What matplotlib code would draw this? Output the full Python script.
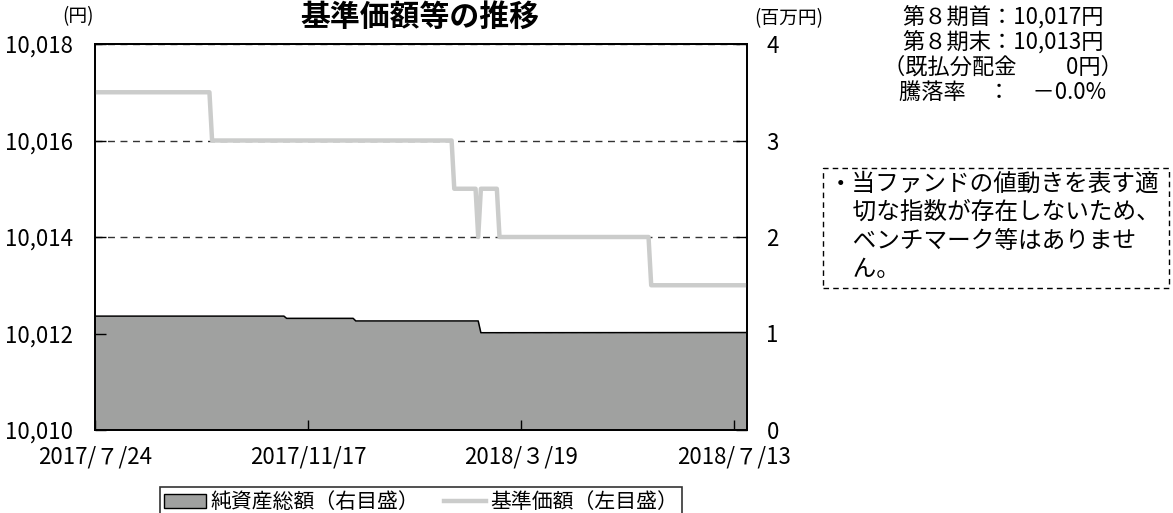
import matplotlib.pyplot as plt
from matplotlib.patches import Rectangle, Patch
from matplotlib.lines import Line2D

plt.rcParams['font.family'] = ['Noto Sans CJK JP', 'DejaVu Sans']

# 営業日インデックスと基準価額（左目盛, 円）
price_idx = [0, 43, 44, 134, 135, 143, 144, 145, 151, 152, 208, 209, 245]
price_val = [10017, 10017, 10016, 10016, 10015, 10015, 10014, 10015, 10015,
             10014, 10014, 10013, 10013]

# 純資産総額（右目盛, 百万円）
asset_idx = [0, 71, 72, 97, 98, 144, 145, 245]
asset_val = [1.18, 1.18, 1.157, 1.157, 1.13, 1.13, 1.008, 1.01]

# 目盛
x_ticks = [0, 80, 160, 240]
x_labels = ['2017/７/24', '2017/11/17', '2018/３/19', '2018/７/13']
left_ticks = [10010, 10012, 10014, 10016, 10018]
right_ticks = [0, 1, 2, 3, 4]

W, H = 1173, 513
fig = plt.figure(figsize=(W / 100, H / 100), dpi=100)
ax = fig.add_axes([95 / W, 1 - 430 / H, (747 - 95) / W, (430 - 44) / H])
ax2 = ax.twinx()

# 純資産総額（面）
ax2.fill_between(asset_idx, asset_val, 0, color='#a0a1a0', lw=0)
ax2.plot(asset_idx, asset_val, color='black', lw=1.1)
ax2.set_ylim(0, 4)
ax2.set_yticks(right_ticks)
ax2.set_yticklabels([str(v) for v in right_ticks])
ax2.yaxis.grid(True, linestyle=(0, (5, 4)), color='#333333', lw=1)
ax2.set_axisbelow(True)
ax2.tick_params(axis='y', direction='in', length=8, width=1, pad=14, labelsize=16)

# 基準価額（線）
ax.set_zorder(ax2.get_zorder() + 1)
ax.patch.set_visible(False)
ax.plot(price_idx, price_val, color='#cbcccb', lw=3.2)
ax.set_ylim(10010, 10018)
ax.set_yticks(left_ticks)
ax.set_yticklabels([f'{v:,}' for v in left_ticks])
ax.set_xlim(0, 245)
ax.set_xticks(x_ticks)
ax.set_xticklabels(x_labels)
ax.tick_params(axis='y', direction='in', length=8, width=1, pad=16, labelsize=16)
ax.tick_params(axis='x', direction='in', length=7, width=1, pad=11, labelsize=16)
for a in (ax, ax2):
    for s in a.spines.values():
        s.set_linewidth(1.3)
        s.set_color('black')

fig.text(420 / W, 1 - 17 / H, '基準価額等の推移', ha='center', va='center',
         fontsize=21.5, fontweight='bold')
fig.text(78 / W, 1 - 17 / H, '(円)', ha='center', va='center', fontsize=13.5)
fig.text(789 / W, 1 - 19 / H, '(百万円)', ha='center', va='center', fontsize=13.5)

# 右上の説明
lines = ['第８期首：10,017円', '第８期末：10,013円', '（既払分配金　　 0円）', '騰落率　：　－0.0%']
for i, t in enumerate(lines):
    fig.text(1003 / W, 1 - (17 + 25 * i) / H, t, ha='center', va='center', fontsize=16)

# 点線の枠
fig.add_artist(Rectangle((823 / W, 1 - 288 / H), (1169 - 823) / W, (288 - 168) / H,
                         transform=fig.transFigure, fill=False, ec='black',
                         lw=1, ls=(0, (4, 3))))
note = ['・当ファンドの値動きを表す適', '　切な指数が存在しないため、',
        '　ベンチマーク等はありませ', '　ん。']
for i, t in enumerate(note):
    fig.text(829 / W, 1 - (184 + 28.5 * i) / H, t, ha='left', va='center', fontsize=17)

# 凡例
handles = [Patch(facecolor='#a0a1a0', edgecolor='black', lw=1),
           Line2D([], [], color='#cbcccb', lw=3.2)]
leg = fig.legend(handles, ['純資産総額（右目盛）', '基準価額（左目盛）'],
                 loc='upper center', bbox_to_anchor=(421 / W, 1 - 487 / H),
                 ncol=2, fontsize=15, frameon=True, fancybox=False,
                 edgecolor='black', handlelength=2.0, handletextpad=0.2,
                 columnspacing=1.2, borderpad=0.2, borderaxespad=0)
leg.get_frame().set_linewidth(1.2)

fig.savefig('out.png', dpi=100)
